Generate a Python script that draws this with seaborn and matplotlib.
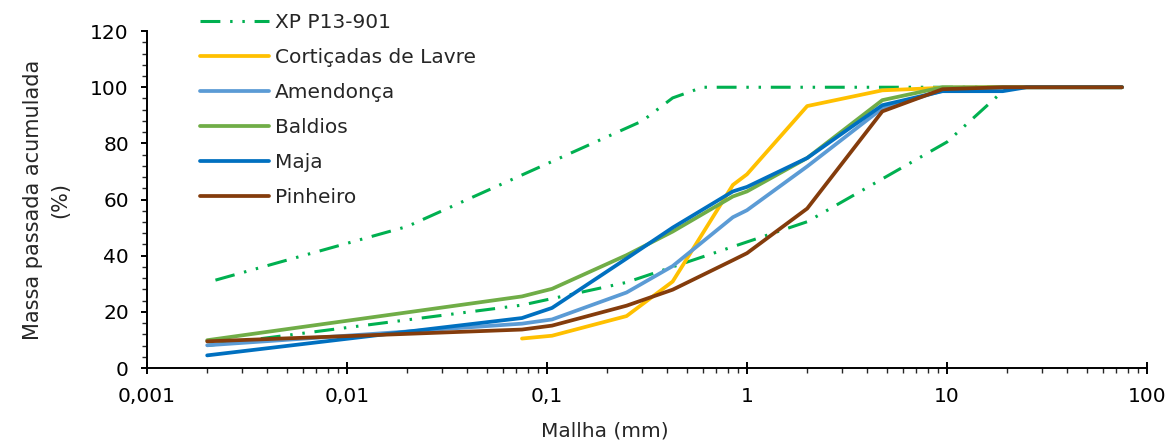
import pandas as pd
import matplotlib
matplotlib.use("Agg")
import matplotlib.pyplot as plt
import seaborn as sns
from matplotlib.ticker import FuncFormatter, NullFormatter, MultipleLocator, LogLocator

# sieve sizes (mm)
sieves = [0.002, 0.075, 0.106, 0.25, 0.425, 0.85, 1.0, 2.0, 4.75, 9.5, 19, 25, 75]

# cumulative passing (%)
corticadas = [None, 10.5, 11.5, 18.5, 30.8, 65.2, 69.0, 93.3, 98.9, 99.8, 100, 100, 100]
amendonca = [8.1, 15.8, 17.3, 26.9, 36.3, 53.7, 56.2, 71.8, 92.5, 98.8, 100, 100, 100]
baldios = [9.9, 25.5, 28.2, 40.2, 48.6, 61.1, 62.9, 74.8, 95.4, 100, 100, 100, 100]
maja = [4.5, 17.8, 21.4, 39.0, 50.0, 62.9, 64.5, 74.8, 93.6, 98.6, 98.6, 100, 100]
pinheiro = [9.5, 13.7, 15.1, 22.2, 27.9, 38.4, 40.9, 56.8, 91.4, 99.3, 100, 100, 100]

# XP P13-901 envelope
xp_upper_x = [0.0022, 0.02, 0.3, 0.425, 0.6, 20]
xp_upper_y = [31.3, 50.4, 88.0, 96.2, 100, 100]
xp_lower_x = [0.002, 0.075, 0.25, 2.0, 10, 20]
xp_lower_y = [8.0, 22.4, 30.5, 52.1, 80.5, 100]

samples = {
    "Cortiçadas de Lavre": corticadas,
    "Amendonça": amendonca,
    "Baldios": baldios,
    "Maja": maja,
    "Pinheiro": pinheiro,
}
colors = {
    "Cortiçadas de Lavre": "#FFC000",
    "Amendonça": "#5B9BD5",
    "Baldios": "#70AD47",
    "Maja": "#0070C0",
    "Pinheiro": "#843C0C",
}

sns.set_style("ticks")
plt.rcParams["font.family"] = ["DejaVu Sans"]
fs = 14.5

fig = plt.figure(figsize=(11.71, 4.41), dpi=100)
ax = fig.add_axes([0.1255, 0.1655, 0.854, 0.764])

xp_ls = (0, (6.5, 3.2, 0.8, 3.2, 0.8, 3.2))
sns.lineplot(x=xp_upper_x, y=xp_upper_y, ax=ax, color="#00B050", lw=2.2,
             linestyle=xp_ls, label="XP P13-901", sort=False, estimator=None)
sns.lineplot(x=xp_lower_x, y=xp_lower_y, ax=ax, color="#00B050", lw=2.2,
             linestyle=xp_ls, label="_nolegend_", sort=False, estimator=None)

for name, vals in samples.items():
    df = pd.DataFrame({"malha": sieves, "passado": vals}).dropna()
    sns.lineplot(data=df, x="malha", y="passado", ax=ax, color=colors[name],
                 lw=2.7, label=name, sort=False, estimator=None,
                 solid_capstyle="round")

ax.set_xscale("log")
ax.set_xlim(0.001, 100)
ax.set_ylim(0, 120)
ax.yaxis.set_major_locator(MultipleLocator(20))
ax.yaxis.set_minor_locator(MultipleLocator(4))
ax.xaxis.set_major_locator(LogLocator(base=10))
ax.xaxis.set_minor_locator(LogLocator(base=10, subs=range(2, 10)))
ax.xaxis.set_major_formatter(FuncFormatter(lambda v, p: f"{v:g}".replace(".", ",")))
ax.xaxis.set_minor_formatter(NullFormatter())

for s in ["top", "right"]:
    ax.spines[s].set_visible(False)
for s in ["left", "bottom"]:
    ax.spines[s].set_linewidth(1.4)
    ax.spines[s].set_color("black")

ax.tick_params(axis="x", which="major", direction="inout", length=9, width=1.4, pad=9)
ax.tick_params(axis="x", which="minor", direction="out", length=3.5, width=1.0)
ax.tick_params(axis="y", which="major", direction="out", length=4, width=1.4, pad=9)
ax.tick_params(axis="y", which="minor", direction="out", length=3.5, width=1.0)
ax.tick_params(labelsize=fs, colors="black")

ax.set_xlabel("Mallha (mm)", fontsize=fs)
ax.xaxis.set_label_coords(0.458, -0.16)
ax.set_ylabel("Massa passada acumulada\n(%)", fontsize=15, linespacing=1.45)
ax.yaxis.set_label_coords(-0.077, 0.5)

ax.legend(loc="upper left", bbox_to_anchor=(0.164, 0.989), bbox_transform=fig.transFigure,
          frameon=False, handlelength=3.43, labelspacing=0.8, handletextpad=0.3,
          fontsize=fs, borderaxespad=0)

fig.savefig("out.png", dpi=100)
